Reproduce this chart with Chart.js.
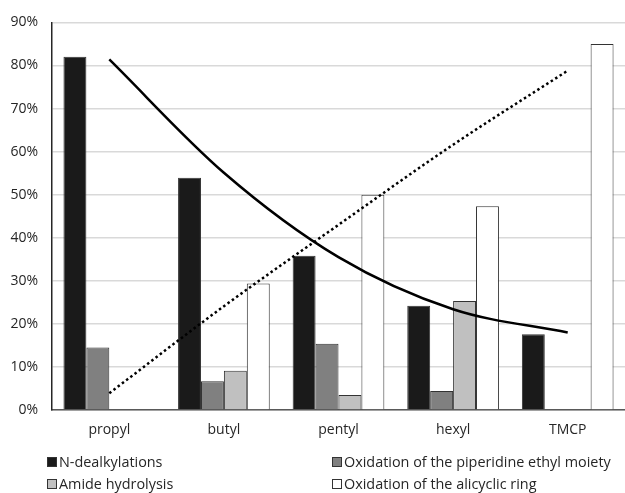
<!DOCTYPE html>
<html>
<head>
<meta charset="utf-8">
<script src="https://cdn.jsdelivr.net/npm/chart.js@4/dist/chart.umd.min.js"></script>
<style>
  body { margin: 0; background: #fff; }
  #wrap { position: relative; width: 625px; height: 493px; }
  #leyenda { position: absolute; left: 0; top: 452px; width: 625px; font-family: "Open Sans", sans-serif; font-size: 14.4px; color: #262626; }
  .item { position: absolute; white-space: nowrap; line-height: 20px; }
  .caja { display: inline-block; width: 8px; height: 8px; border: 1px solid #333; margin-right: 2px; vertical-align: 0px; }
</style>
</head>
<body>
<div id="wrap">
  <canvas id="grafica" width="625" height="493"></canvas>
  <div id="leyenda"></div>
</div>
<script>
// categorias y valores (%)
const categorias = ["propyl", "butyl", "pentyl", "hexyl", "TMCP"];
const nDealquilacion = [82, 53.9, 35.8, 24.2, 17.6];
const oxidacionPiperidina = [14.5, 6.7, 15.4, 4.4, null];
const hidrolisisAmida = [null, 9.1, 3.5, 25.3, null];
const oxidacionAliciclico = [null, 29.4, 50, 47.3, 85];
// lineas de tendencia tal como se ven en la figura
const tendenciaSolida = [81.4, 55.1, 35.5, 23.4, 18.0];
const tendenciaPunteada = [3.9, 24.1, 43.0, 61.6, 78.8];
const ticksY = [0, 10, 20, 30, 40, 50, 60, 70, 80, 90];

const fuente = "'Open Sans', sans-serif";

const barras = [
  { label: "N-dealkylations", data: nDealquilacion, color: "#1a1a1a" },
  { label: "Oxidation of the piperidine ethyl moiety", data: oxidacionPiperidina, color: "#808080" },
  { label: "Amide hydrolysis", data: hidrolisisAmida, color: "#c0c0c0" },
  { label: "Oxidation of the alicyclic ring", data: oxidacionAliciclico, color: "#ffffff" },
];

const data = {
  labels: categorias,
  datasets: [
    {
      type: "line",
      label: "tendencia 1",
      data: tendenciaSolida,
      borderColor: "#000",
      borderWidth: 2.5,
      pointRadius: 0,
      cubicInterpolationMode: "monotone",
      fill: false,
      order: 0,
    },
    {
      type: "line",
      label: "tendencia 2",
      data: tendenciaPunteada,
      borderColor: "#000",
      borderWidth: 2.5,
      borderDash: [2.5, 2.8],
      pointRadius: 0,
      cubicInterpolationMode: "monotone",
      fill: false,
      order: 0,
    },
    ...barras.map((b) => ({
      type: "bar",
      label: b.label,
      data: b.data,
      backgroundColor: b.color,
      borderColor: "#333",
      borderWidth: 1,
      categoryPercentage: 0.8,
      barPercentage: 1.0,
      order: 1,
    })),
  ],
};

const config = {
  type: "bar",
  data: data,
  options: {
    responsive: false,
    animation: false,
    layout: { padding: { top: 18, right: 0, left: 0, bottom: 0 } },
    plugins: { legend: { display: false }, tooltip: { enabled: false } },
    scales: {
      x: {
        grid: { display: false, drawTicks: false },
        border: { color: "#595959", width: 1.5 },
        ticks: { color: "#262626", font: { family: fuente, size: 14 }, padding: 12 },
        afterFit: (s) => { s.height = 83; },
      },
      y: {
        min: 0,
        max: 90,
        afterBuildTicks: (s) => { s.ticks = ticksY.map((v) => ({ value: v })); },
        grid: { color: "#d9d9d9", lineWidth: 1.5, drawTicks: false },
        border: { color: "#262626", width: 1.5 },
        ticks: {
          color: "#262626",
          font: { family: fuente, size: 14 },
          padding: 14,
          callback: (v) => v + "%",
        },
        afterFit: (s) => { s.width = 52; },
      },
    },
  },
};

new Chart(document.getElementById("grafica"), config);

// leyenda en dos columnas como en la figura
const posiciones = [
  { left: 47, top: 0 },
  { left: 332, top: 0 },
  { left: 47, top: 22 },
  { left: 332, top: 22 },
];
const leyenda = document.getElementById("leyenda");
barras.forEach((b, i) => {
  const div = document.createElement("div");
  div.className = "item";
  div.style.left = posiciones[i].left + "px";
  div.style.top = posiciones[i].top + "px";
  div.innerHTML = `<span class="caja" style="background:${b.color}"></span>${b.label}`;
  leyenda.appendChild(div);
});
</script>
</body>
</html>
